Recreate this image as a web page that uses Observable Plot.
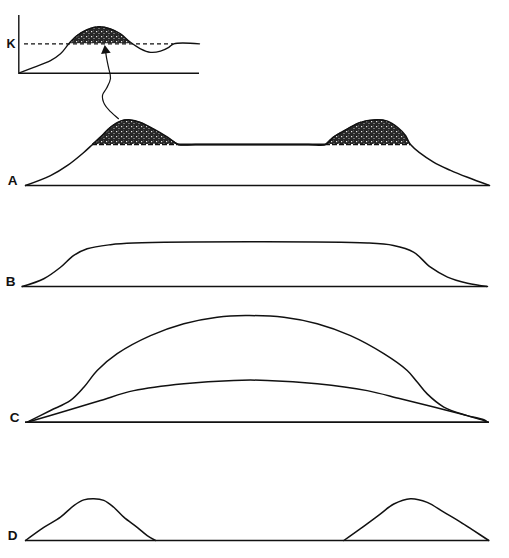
<!DOCTYPE html>
<html>
<head>
<meta charset="utf-8">
<script src="https://cdn.jsdelivr.net/npm/d3@7"></script>
<script src="https://cdn.jsdelivr.net/npm/@observablehq/plot@0.6"></script>
<style>
  html, body { margin: 0; padding: 0; background: #fff; }
  #chart { position: relative; width: 509px; height: 558px; overflow: hidden; }
  #chart svg { position: absolute; }
</style>
</head>
<body>
<div id="chart"></div>
<script>
// ---------- DATA (position along transect, density in units of K) ----------
// Inset: population over time
const insetTime    = [0, 15, 31.7, 41.7, 50, 58.4, 68.4, 80, 91.7, 101.7, 111.7, 121.7, 131.7, 141.7, 150, 155, 180.7];
const insetDensity = [0, 0.2, 0.43, 0.66, 1.0, 1.28, 1.48, 1.58, 1.51, 1.34, 1.05, 0.83, 0.71, 0.75, 0.88, 1.0, 1.0];
const insetShadeTime    = [50, 58.4, 68.4, 80, 91.7, 101.7, 111.7];
const insetShadeDensity = [1.0, 1.28, 1.48, 1.58, 1.51, 1.34, 1.05];
const insetK = 1;

// Panel A
const aPosition = [0, 25, 42, 58, 67, 75, 85, 95, 105, 115, 128, 142, 153, 170, 283, 300, 308, 322, 335, 348, 362, 372, 380, 385, 408, 425, 442, 464];
const aDensity  = [0, 0.24, 0.49, 0.80, 1.0, 1.18, 1.42, 1.57, 1.6, 1.54, 1.38, 1.18, 1.0, 1.0, 1.0, 1.0, 1.18, 1.38, 1.54, 1.6, 1.57, 1.42, 1.22, 1.0, 0.57, 0.37, 0.2, 0];
const aHump1Position = [67, 75, 85, 95, 105, 115, 128, 142, 153];
const aHump1Density  = [1.0, 1.18, 1.42, 1.57, 1.6, 1.54, 1.38, 1.18, 1.0];
const aHump2Position = [300, 308, 322, 335, 348, 362, 372, 380, 385];
const aHump2Density  = [1.0, 1.18, 1.38, 1.54, 1.6, 1.57, 1.42, 1.22, 1.0];
// arrow from panel A hump to inset
const arrowPosition = [80, 81, 83, 85, 81, 77, 79, 85, 93];
const arrowDensity  = [3.29, 3.12, 2.88, 2.61, 2.37, 2.2, 1.98, 1.8, 1.63];

// Panel B
const bPosition = [-3.3, 18.3, 35, 48.3, 61.7, 85, 108, 342, 368, 388, 405, 422, 442, 462];
const bDensity  = [0, 0.19, 0.47, 0.76, 0.92, 1.02, 1.06, 1.06, 1.0, 0.84, 0.47, 0.23, 0.08, 0];

// Panel C
const cUpperPosition = [1.7, 25, 45, 58.3, 71.7, 91.7, 125, 158.3, 191.7, 220, 258.3, 291.7, 325, 358.3, 381.7, 391.7, 401.7, 418.3, 441.7, 458.3, 462];
const cUpperDensity  = [0, 0.285, 0.53, 0.85, 1.26, 1.67, 2.11, 2.4, 2.56, 2.6, 2.56, 2.4, 2.11, 1.67, 1.26, 0.98, 0.69, 0.37, 0.16, 0.04, 0];
const cLowerPosition = [1.7, 41.7, 75, 108.3, 158.3, 208.3, 241.7, 291.7, 341.7, 375, 408.3, 441.7, 458.3, 462];
const cLowerDensity  = [0, 0.285, 0.53, 0.77, 0.94, 1.02, 1.02, 0.94, 0.77, 0.57, 0.37, 0.16, 0.06, 0];

// Panel D
const dHump1Position = [0, 18.3, 35, 48.3, 58.3, 68.3, 78.3, 88.3, 98.3, 111.7, 121.7, 130];
const dHump1Density  = [0, 0.32, 0.57, 0.85, 0.99, 1.02, 0.98, 0.81, 0.57, 0.32, 0.12, 0];
const dHump2Position = [318.3, 335, 355, 368.3, 385, 401.7, 418.3, 435, 448.3, 463.3];
const dHump2Density  = [0, 0.29, 0.65, 0.89, 1.02, 0.93, 0.69, 0.45, 0.24, 0];

const panelLabels = ["A", "B", "C", "D"];
const transectExtent = [0, 464];

// ---------- helpers ----------
const zip = (xs, ys) => xs.map((x, i) => ({x, y: ys[i]}));
const chart = document.getElementById("chart");
const LABEL_FONT = "'Liberation Sans Narrow', 'Liberation Sans', Arial, sans-serif";

function stippleDefs(svg) {
  const ns = "http://www.w3.org/2000/svg";
  const defs = document.createElementNS(ns, "defs");
  defs.innerHTML = `
    <pattern id="stipple" patternUnits="userSpaceOnUse" width="5" height="5">
      <rect width="5" height="5" fill="#262626"></rect>
      <rect x="1" y="1" width="1.2" height="1.2" fill="#e6e6e6"></rect>
      <rect x="3.5" y="3" width="1" height="1" fill="#bdbdbd"></rect>
      <rect x="3" y="0.5" width="0.8" height="0.8" fill="#8a8a8a"></rect>
    </pattern>`;
  svg.insertBefore(defs, svg.firstChild);
}

function place({left = 0, top, width = 509, height, baseline, unit, xDomain, marks}) {
  const svg = Plot.plot({
    width, height,
    marginTop: 0, marginRight: 0, marginBottom: 0, marginLeft: 0,
    x: {domain: xDomain, axis: null},
    y: {domain: [(baseline - top - height) / unit, (baseline - top) / unit], axis: null},
    style: {background: "transparent", overflow: "visible"},
    marks
  });
  stippleDefs(svg);
  svg.style.left = left + "px";
  svg.style.top = top + "px";
  chart.appendChild(svg);
}

const MAIN_X = [-25, 484];
const UNIT = 41;
const curve = "catmull-rom";
const INK = "#111";
const SHADE = "url(#stipple)";
const lineStyle = {x: "x", y: "y", curve, stroke: INK, strokeWidth: 1.5};
const baseRule = (x1, x2) => Plot.ruleY([0], {x1, x2, stroke: INK, strokeWidth: 1.7});
const label = (t, xpos) => Plot.text([t], {x: xpos, y: 0, text: d => d, dy: -4.5, textAnchor: "middle",
  fontSize: 13.5, fontWeight: "bold", fontFamily: LABEL_FONT, fill: INK});

// ---------- Inset ----------
place({
  left: 0, top: 0, width: 210, height: 90, baseline: 72.7, unit: 29.4,
  xDomain: [-18.3, 191.7],
  marks: [
    Plot.areaY(zip(insetShadeTime, insetShadeDensity), {x: "x", y1: insetK, y2: "y", curve, fill: SHADE}),
    Plot.ruleY([insetK], {x1: 5.7, x2: 155, stroke: INK, strokeWidth: 1.3, strokeDasharray: "4,3"}),
    Plot.ruleX([0], {y1: 0, y2: 1.96, stroke: INK, strokeWidth: 1.4}),
    Plot.ruleY([0], {x1: 0, x2: 180.7, stroke: INK, strokeWidth: 1.4}),
    Plot.line(zip(insetTime, insetDensity), {...lineStyle, strokeWidth: 1.3}),
    Plot.text(["K"], {x: -7.8, y: insetK, text: d => d, textAnchor: "middle", fontSize: 12.5,
      fontWeight: "bold", fontFamily: LABEL_FONT, fill: INK})
  ]
});

// ---------- Panel A ----------
place({
  top: 40, height: 155, baseline: 185, unit: UNIT, xDomain: MAIN_X,
  marks: [
    Plot.areaY(zip(aHump1Position, aHump1Density), {x: "x", y1: 1, y2: "y", curve, fill: SHADE}),
    Plot.areaY(zip(aHump2Position, aHump2Density), {x: "x", y1: 1, y2: "y", curve, fill: SHADE}),
    Plot.ruleY([1], {x1: aHump1Position[0], x2: aHump1Position[aHump1Position.length - 1], stroke: INK, strokeWidth: 1.4, strokeDasharray: "5,2"}),
    Plot.ruleY([1], {x1: aHump2Position[0], x2: aHump2Position[aHump2Position.length - 1], stroke: INK, strokeWidth: 1.4, strokeDasharray: "5,2"}),
    Plot.ruleY([1], {x1: aHump1Position[aHump1Position.length - 1], x2: aHump2Position[0], stroke: INK, strokeWidth: 1.8}),
    baseRule(...transectExtent),
    Plot.line(zip(aPosition, aDensity), lineStyle),
    Plot.line(zip(arrowPosition, arrowDensity), {x: "x", y: "y", curve: "catmull-rom", stroke: INK, strokeWidth: 1.2}),
    Plot.dot([arrowPosition[0]], {x: d => d, y: arrowDensity[0], symbol: "triangle", r: 3.6, fill: INK, stroke: "none", rotate: -8}),
    label(panelLabels[0], -13)
  ]
});

// ---------- Panel B ----------
place({
  top: 225, height: 75, baseline: 286, unit: UNIT, xDomain: MAIN_X,
  marks: [
    baseRule(bPosition[0], bPosition[bPosition.length - 1]),
    Plot.line(zip(bPosition, bDensity), lineStyle),
    label(panelLabels[1], -15)
  ]
});

// ---------- Panel C ----------
place({
  top: 300, height: 130, baseline: 421.7, unit: UNIT, xDomain: MAIN_X,
  marks: [
    baseRule(...transectExtent),
    Plot.line(zip(cUpperPosition, cUpperDensity), lineStyle),
    Plot.line(zip(cLowerPosition, cLowerDensity), lineStyle),
    label(panelLabels[2], -11)
  ]
});

// ---------- Panel D ----------
place({
  top: 480, height: 70, baseline: 540, unit: UNIT, xDomain: MAIN_X,
  marks: [
    baseRule(...transectExtent),
    Plot.line(zip(dHump1Position, dHump1Density), lineStyle),
    Plot.line(zip(dHump2Position, dHump2Density), lineStyle),
    label(panelLabels[3], -13)
  ]
});
</script>
</body>
</html>
